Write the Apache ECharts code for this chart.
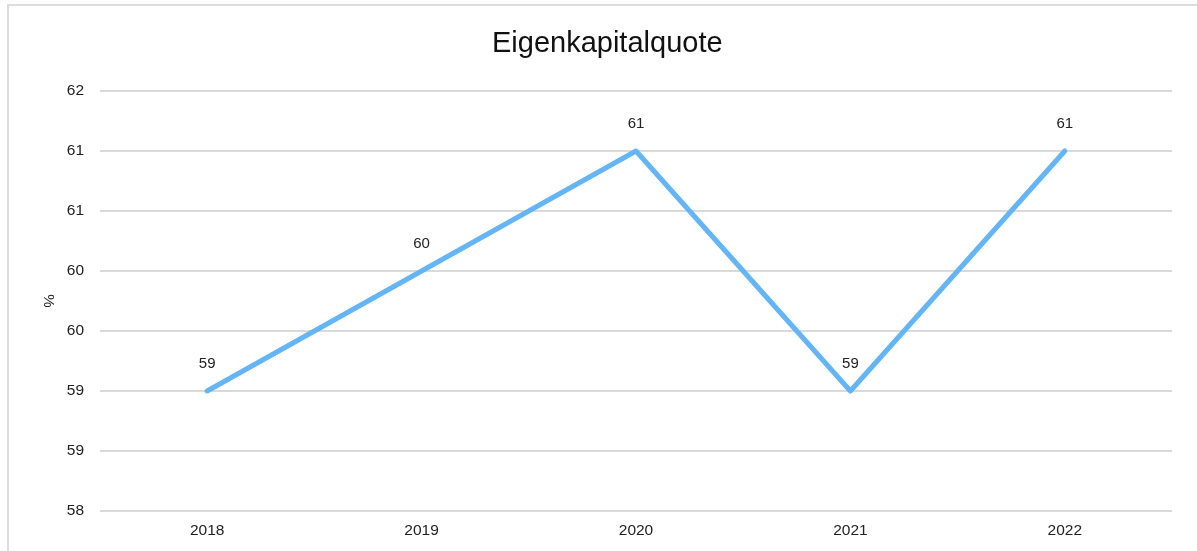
<!DOCTYPE html>
<html>
<head>
<meta charset="utf-8">
<script src="https://cdn.jsdelivr.net/npm/echarts@6/dist/echarts.min.js"></script>
<style>
	html, body { margin: 0; padding: 0; background: #fff; }
	#frame { position: absolute; left: 7px; top: 4px; width: 1200px; height: 560px; border: 2px solid #dcdcdc; box-sizing: border-box; }
	#main { position: absolute; left: 0; top: 0; width: 1197px; height: 551px; }
</style>
</head>
<body>
<div id="frame"></div>
<div id="main"></div>
<script>
// Kategorien und Werte
var years = ['2018', '2019', '2020', '2021', '2022'];
var quote = [59, 60, 61, 59, 61];

var myChart = echarts.init(document.getElementById('main'));

var option = {
	title: {
		text: 'Eigenkapitalquote',
		left: 487,
		top: 24,
		textStyle: { fontFamily: 'Liberation Sans', fontSize: 29, fontWeight: 'normal', color: '#111' }
	},
	grid: { left: 100, right: 25, top: 91, bottom: 40 },
	xAxis: {
		type: 'category',
		data: years,
		boundaryGap: true,
		axisLine: { show: false },
		axisTick: { show: false },
		axisLabel: { margin: 12, fontFamily: 'Liberation Sans', fontSize: 15.5, color: '#222' }
	},
	yAxis: {
		type: 'value',
		min: 58,
		max: 61.5,
		interval: 0.5,
		name: '%',
		nameLocation: 'middle',
		nameGap: 42,
		nameRotate: -90,
		nameTextStyle: { fontFamily: 'Liberation Sans', fontSize: 15, color: '#222' },
		axisLabel: {
			margin: 16,
			fontFamily: 'Liberation Sans', fontSize: 15.5, color: '#222',
			formatter: function (v) { return Math.round(v).toString(); }
		},
		splitLine: { lineStyle: { color: '#d9d9d9', width: 2 } }
	},
	series: [{
		type: 'line',
		data: quote,
		symbol: 'circle',
		symbolSize: 0.1,
		itemStyle: { color: '#64b5f6' },
		lineStyle: { color: '#64b5f6', width: 5, cap: 'round', join: 'round' },
		label: {
			show: true,
			position: 'top',
			distance: 20,
			fontFamily: 'Liberation Sans', fontSize: 15, color: '#222'
		},
		animation: false
	}]
};

myChart.setOption(option);
</script>
</body>
</html>
